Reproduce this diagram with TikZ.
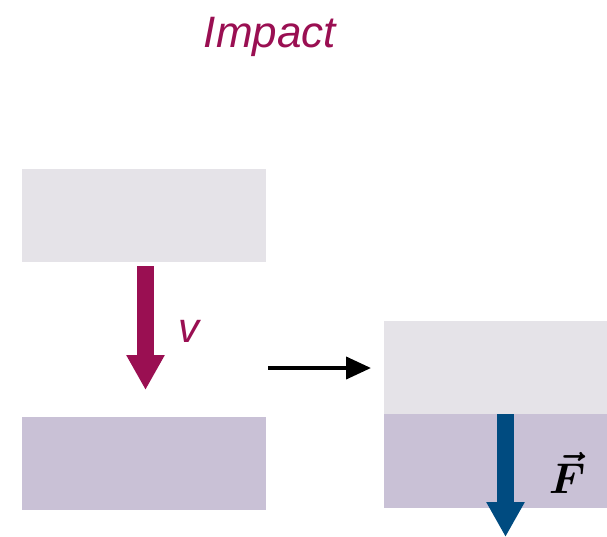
\documentclass[tikz,border=0pt]{standalone}
\usepackage{amsmath}
\usepackage{fontspec}
\setmainfont{Liberation Sans}
\usetikzlibrary{arrows.meta}
\definecolor{lightbox}{HTML}{E5E3E8}
\definecolor{purplebox}{HTML}{C9C1D6}
\definecolor{magentaarrow}{HTML}{9A0F52}
\definecolor{bluearrow}{HTML}{004B80}
\tikzset{
  block/.style={fill=#1, draw=none, minimum width=244pt, minimum height=93pt, inner sep=0pt, anchor=north west},
  rblock/.style={fill=#1, draw=none, minimum width=223pt, minimum height=94pt, inner sep=0pt, anchor=north west},
  fatarrow/.style={draw=#1, line width=17pt, -{Triangle[width=36pt,length=35pt,fill=#1]}},
  thinarrow/.style={draw=black, line width=4pt, -{Triangle[width=22pt,length=25pt]}},
  lbl/.style={inner sep=0pt}
}
\begin{document}
\begin{tikzpicture}[x=1pt,y=-1pt]
\useasboundingbox (0,0) rectangle (607,536);
% left blocks
\node[block=lightbox] (topL) at (22,169) {};
\node[block=purplebox] (botL) at (22,417) {};
% right blocks
\node[rblock=lightbox] (topR) at (384,321) {};
\node[rblock=purplebox] (botR) at (384,414) {};
% title
\node[lbl, text=magentaarrow, font=\fontsize{44}{48}\selectfont\itshape] (title) at (270,37) {Impact};
% velocity arrow
\coordinate (vs) at (145.5,266);
\coordinate (ve) at (145.5,390);
\draw[fatarrow=magentaarrow] (vs) -- (ve);
\node[lbl, text=magentaarrow, font=\fontsize{42}{46}\selectfont\itshape] (v) at (189,331) {v};
% transition arrow
\coordinate (ts) at (268,368);
\coordinate (te) at (371,368);
\draw[thinarrow] (ts) -- (te);
% force arrow
\coordinate (fs) at (505.5,414);
\coordinate (fe) at (505.5,537);
\draw[fatarrow=bluearrow] (fs) -- (fe);
\node[lbl] (F) at (567,473) {\scalebox{4.3}{$\boldsymbol{\vec{F}}$}};
\end{tikzpicture}
\end{document}
